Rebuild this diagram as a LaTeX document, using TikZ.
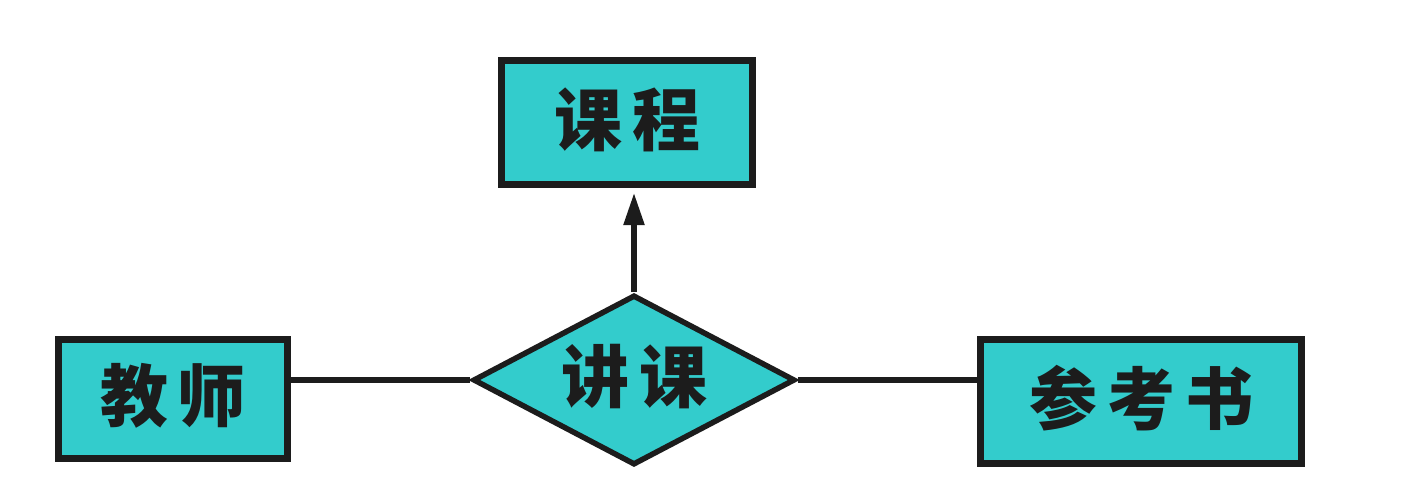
\documentclass[tikz,border=0pt]{standalone}
\usepackage{fontspec}
\newfontfamily\cjk{Noto Sans CJK SC}
\usetikzlibrary{shapes.geometric,arrows.meta}
\definecolor{fillc}{HTML}{33CCCC}
\definecolor{linec}{HTML}{1C1C1C}
\tikzset{
  entity/.style={draw=linec, fill=fillc, line width=3.5pt, inner sep=0pt, rectangle},
  relation/.style={draw=linec, fill=fillc, line width=2.75pt, inner sep=0pt, diamond, aspect=1.9},
  lbl/.style={text=linec, font=\cjk\bfseries\fontsize{34pt}{40pt}\selectfont, inner sep=0pt},
  conn/.style={draw=linec, line width=2.6pt}
}
\begin{document}
\begin{tikzpicture}[x=0.5pt,y=-0.5pt]
\useasboundingbox (0,0) rectangle (1408,492);
\node[entity, minimum width=125.5pt, minimum height=62pt] (kc) at (627,122.5) {};
\node[lbl] (kct) at (627,120) {课\hspace{5pt}程};
\node[entity, minimum width=114.5pt, minimum height=59.5pt] (js) at (173,399) {};
\node[lbl] (jst) at (173,396) {教\hspace{5pt}师};
\node[entity, minimum width=160.5pt, minimum height=62pt] (ck) at (1141,401.5) {};
\node[lbl] (ckt) at (1141,398) {参\hspace{5pt}考\hspace{5pt}书};
\node[relation, minimum width=161pt, minimum height=85pt] (jk) at (634,380) {};
\node[lbl] (jkt) at (634,377) {讲\hspace{5pt}课};
\draw[conn] (js.east |- jk.west) -- (jk.west);
\draw[conn] (jk.east) -- (jk.east -| ck.west);
\draw[conn, -{Triangle[length=16pt,width=10pt]}, shorten >=2.5pt] (jk.north) -- (jk.north |- kc.south);
\end{tikzpicture}
\end{document}
